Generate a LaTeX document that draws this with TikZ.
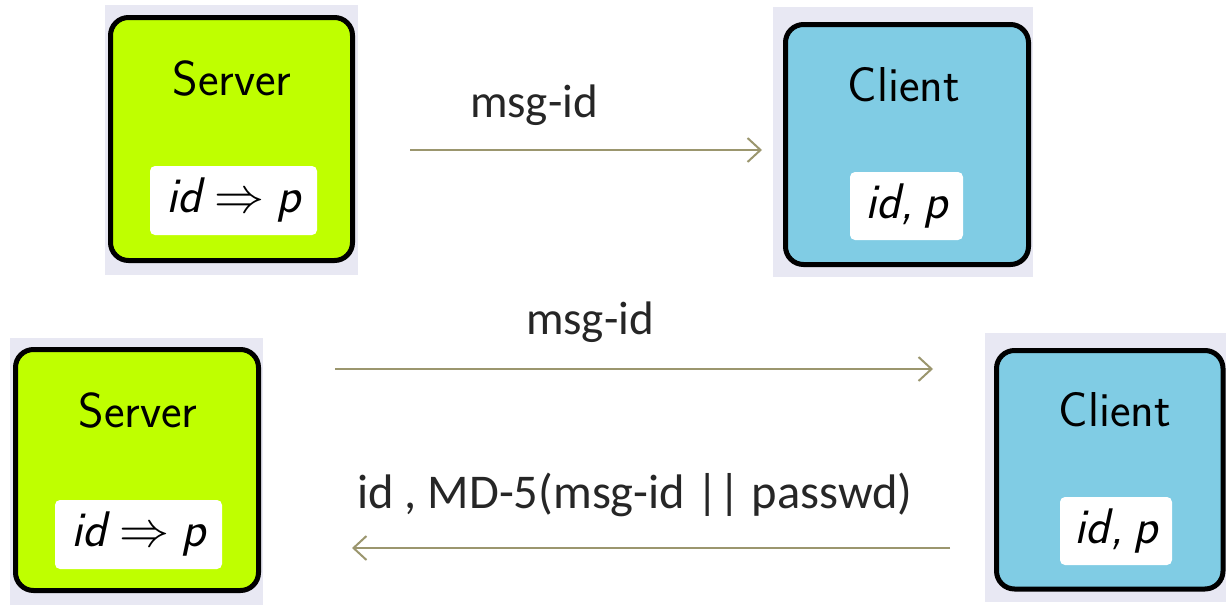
\RequirePackage{fix-cm}
\documentclass[tikz,border=0pt]{standalone}
\usepackage{fontspec}
\newfontfamily\labelfont{Carlito}
\usetikzlibrary{arrows.meta}

\definecolor{panelbg}{RGB}{232,232,243}
\definecolor{servergreen}{RGB}{191,255,0}
\definecolor{clientblue}{RGB}{128,204,228}
\definecolor{msgline}{RGB}{155,150,110}
\definecolor{labeltext}{RGB}{38,38,38}

\tikzset{
  panel/.style={fill=panelbg, draw=none},
  hostbox/.style={draw=black, line width=5pt, rounded corners=18pt},
  titletext/.style={font=\fontsize{49}{54}\selectfont\sffamily, text=black, inner sep=0pt},
  keybox/.style={fill=white, rounded corners=5pt, inner sep=0pt, font=\fontsize{50}{55}\selectfont\sffamily},
  msg/.style={draw=msgline, line width=2pt, -{Straight Barb[length=13pt, width=24pt, line width=2pt]}},
  msglabel/.style={font=\labelfont\fontsize{47}{52}\selectfont, text=labeltext, inner sep=0pt, anchor=base}
}

\begin{document}
\begin{tikzpicture}[x=1pt, y=-1pt]
  \useasboundingbox (0,0) rectangle (1226,605);

  % --- top row: server and client with a single message ---
  \fill[panel] (105,5) rectangle (358,275);
  \filldraw[hostbox, fill=servergreen] (110.5,17.5) rectangle (352.5,260.5);
  \node[titletext] (s1) at (232,78) {Server};
  \node[keybox, minimum width=167pt, minimum height=69pt] (s1k) at (233.5,200.5) {\itshape id\kern0.25em$\Rightarrow$\kern0.25em p};

  \fill[panel] (773,7) rectangle (1033,277);
  \filldraw[hostbox, fill=clientblue] (785.5,24.5) rectangle (1028.5,264.5);
  \node[titletext] (c1) at (904,85) {Client};
  \node[keybox, minimum width=113pt, minimum height=68pt] (c1k) at (906.5,206) {\itshape id,\kern0.2em p};

  \coordinate (a1s) at (410,150);
  \coordinate (a1e) at (762,150);
  \draw[msg] (a1s) -- (a1e);
  \node[msglabel] (l1) at (534,117) {msg-id};

  % --- bottom row: challenge and response ---
  \fill[panel] (10,338) rectangle (263,605);
  \filldraw[hostbox, fill=servergreen] (15.5,349.5) rectangle (258.5,590.5);
  \node[titletext] (s2) at (138,410) {Server};
  \node[keybox, minimum width=167pt, minimum height=69pt] (s2k) at (138.5,534.5) {\itshape id\kern0.25em$\Rightarrow$\kern0.25em p};

  \fill[panel] (985,333) rectangle (1226,602);
  \filldraw[hostbox, fill=clientblue] (996.5,350.5) rectangle (1223,589);
  \node[titletext] (c2) at (1115,410) {Client};
  \node[keybox, minimum width=112pt, minimum height=68pt] (c2k) at (1116,531) {\itshape id,\kern0.2em p};

  \coordinate (a2s) at (335,369);
  \coordinate (a2e) at (933,369);
  \draw[msg] (a2s) -- (a2e);
  \node[msglabel] (l2) at (590,334) {msg-id};

  \coordinate (a3s) at (950,548);
  \coordinate (a3e) at (352,548);
  \draw[msg] (a3s) -- (a3e);
  \node[msglabel, font=\labelfont\fontsize{48.5}{53}\selectfont] (l3) at (635,508) {id , MD-5(msg-id || passwd)};
\end{tikzpicture}
\end{document}
